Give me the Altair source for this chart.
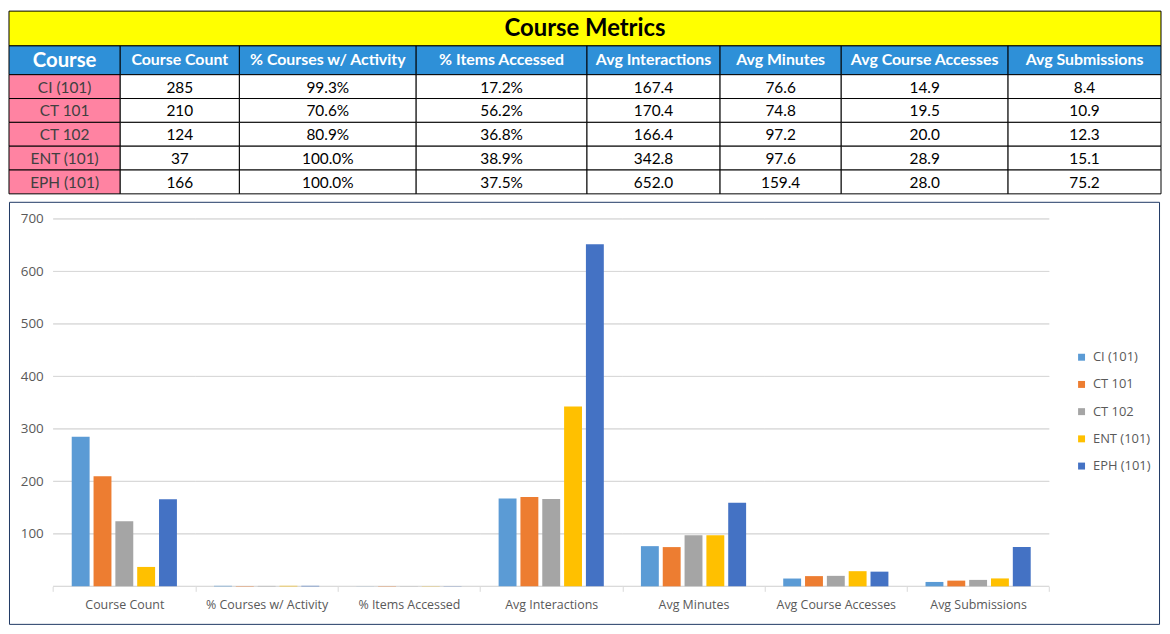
import altair as alt
import pandas as pd

# ---------------- data ----------------
courses = ["CI (101)", "CT 101", "CT 102", "ENT (101)", "EPH (101)"]
metrics = ["Course Count", "% Courses w/ Activity", "% Items Accessed",
           "Avg Interactions", "Avg Minutes", "Avg Course Accesses", "Avg Submissions"]

course_count = [285, 210, 124, 37, 166]
pct_courses_active = [0.993, 0.706, 0.809, 1.000, 1.000]
pct_items_accessed = [0.172, 0.562, 0.368, 0.389, 0.375]
avg_interactions = [167.4, 170.4, 166.4, 342.8, 652.0]
avg_minutes = [76.6, 74.8, 97.2, 97.6, 159.4]
avg_course_accesses = [14.9, 19.5, 20.0, 28.9, 28.0]
avg_submissions = [8.4, 10.9, 12.3, 15.1, 75.2]

y_ticks = [100, 200, 300, 400, 500, 600, 700]
title_text = "Course Metrics"
first_header = "Course"

series = [course_count, pct_courses_active, pct_items_accessed, avg_interactions,
          avg_minutes, avg_course_accesses, avg_submissions]
formats = ["int", "pct", "pct", "dec", "dec", "dec", "dec"]

bar_colors = ["#5B9BD5", "#ED7D31", "#A5A5A5", "#FFC000", "#4472C4"]

# ---------------- layout (not data) ----------------
col_widths = [112, 120, 178, 172, 134, 122, 168, 154]
title_h, header_h, row_h = 35, 29, 24
table_w = sum(col_widths)
table_h = title_h + header_h + row_h * len(courses)
panel_w, panel_h = 1158, 425

FONT_T = "Lato"
FONT_C = "Open Sans"


def fmt(v, kind):
    if kind == "int":
        return f"{int(v)}"
    if kind == "pct":
        return f"{v * 100:.1f}%"
    return f"{v:.1f}"


# ---------------- table cells ----------------
edges = [0]
for w in col_widths:
    edges.append(edges[-1] + w)

cells = [dict(x0=0, x1=table_w, y0=0, y1=title_h, text=title_text,
              kind="title", fill="#FFFF00")]
headers = [first_header] + metrics
for c, h in enumerate(headers):
    cells.append(dict(x0=edges[c], x1=edges[c + 1], y0=title_h, y1=title_h + header_h,
                      text=h, kind="head0" if c == 0 else "head", fill="#2E90D8"))
for r, course in enumerate(courses):
    y0 = title_h + header_h + r * row_h
    cells.append(dict(x0=edges[0], x1=edges[1], y0=y0, y1=y0 + row_h,
                      text=course, kind="course", fill="#FF83A2"))
    for c, (vals, f) in enumerate(zip(series, formats)):
        cells.append(dict(x0=edges[c + 1], x1=edges[c + 2], y0=y0, y1=y0 + row_h,
                          text=fmt(vals[r], f), kind="body", fill="#FFFFFF"))
cells_df = pd.DataFrame(cells)

tx = alt.Scale(domain=[0, table_w], nice=False, zero=False)
ty = alt.Scale(domain=[0, table_h], nice=False, zero=False, reverse=True)

base_t = alt.Chart(cells_df)
rects = base_t.mark_rect(stroke="#000000", strokeWidth=1).encode(
    x=alt.X("x0:Q", scale=tx, axis=None),
    x2="x1:Q",
    y=alt.Y("y0:Q", scale=ty, axis=None),
    y2="y1:Q",
    fill=alt.Fill("fill:N", scale=None),
)

text_base = base_t.transform_calculate(
    xc="(datum.x0 + datum.x1) / 2", yc="(datum.y0 + datum.y1) / 2"
)


def text_layer(kind, **kw):
    return text_base.transform_filter(alt.datum.kind == kind).mark_text(
        font=FONT_T, baseline="middle", align="center", **kw
    ).encode(
        x=alt.X("xc:Q", scale=tx, axis=None),
        y=alt.Y("yc:Q", scale=ty, axis=None),
        text="text:N",
    )


table = alt.layer(
    rects,
    text_layer("title", fontSize=24, fontWeight="bold", color="#000000", dy=1),
    text_layer("head0", fontSize=20.5, fontWeight="bold", color="#FFFFFF", dy=1),
    text_layer("head", fontSize=16, fontWeight="bold", color="#FFFFFF"),
    text_layer("course", fontSize=15.5, color="#404040", dy=1),
    text_layer("body", fontSize=15.5, color="#000000", dy=1),
).properties(width=table_w, height=table_h,
             view=alt.ViewBackground(stroke="transparent"))

# ---------------- bar chart ----------------
rows = []
for m, vals in zip(metrics, series):
    for c, v in zip(courses, vals):
        rows.append(dict(metric=m, course=c, value=v))
bars_df = pd.DataFrame(rows)

grid_df = pd.DataFrame([dict(metric=m, v=t) for t in [0] + y_ticks for m in metrics])

xs = alt.Scale(domain=metrics, paddingInner=0, paddingOuter=0.5409, align=0.287, round=False)
ys = alt.Scale(domain=[-71.5, 732.7], nice=False, zero=False)

grid = alt.Chart(grid_df).mark_rect(stroke="#D9D9D9", strokeWidth=1, fill="#D9D9D9").encode(
    x=alt.X("metric:N", scale=xs, sort=metrics,
            axis=alt.Axis(orient="bottom", offset=-37.8, domain=False, grid=False,
                          ticks=True, tickBand="extent", tickSize=5, tickColor="#D9D9D9",
                          labelFont=FONT_C, labelFontSize=12.5, labelColor="#595959",
                          labelPadding=7, labelAngle=0, labelLimit=0, title=None)),
    y=alt.Y("v:Q", scale=ys,
            axis=alt.Axis(values=y_ticks, orient="left", offset=-44.5, domain=False,
                          ticks=False, grid=False, labelFont=FONT_C, labelFontSize=13.5,
                          labelColor="#595959", labelPadding=10, title=None)),
    y2="v:Q",
)

bars = alt.Chart(bars_df).mark_bar().encode(
    x=alt.X("metric:N", scale=xs, sort=metrics),
    xOffset=alt.XOffset("course:N", sort=courses,
                        scale=alt.Scale(domain=courses, paddingInner=0.18,
                                        paddingOuter=0.85, round=False)),
    y=alt.Y("value:Q", scale=ys),
    y2=alt.datum(0),
    color=alt.Color("course:N", sort=courses,
                    scale=alt.Scale(domain=courses, range=bar_colors),
                    legend=alt.Legend(orient="none", legendX=1073.5, legendY=150,
                                      title=None, symbolType="square", symbolSize=49,
                                      symbolStrokeWidth=0, labelFont=FONT_C,
                                      labelFontSize=13, labelColor="#595959",
                                      rowPadding=13.4, labelOffset=5, padding=0)),
)

barchart = alt.layer(grid, bars).properties(
    width=panel_w, height=panel_h,
    view=alt.ViewBackground(stroke="#1F3864", strokeWidth=1),
)

chart = alt.vconcat(table, barchart, spacing=6).resolve_scale(
    x="independent", y="independent", color="independent"
).properties(padding=0).configure(background="#FFFFFF")

chart.save("out.html", embed_options={"renderer": "svg", "actions": False})
